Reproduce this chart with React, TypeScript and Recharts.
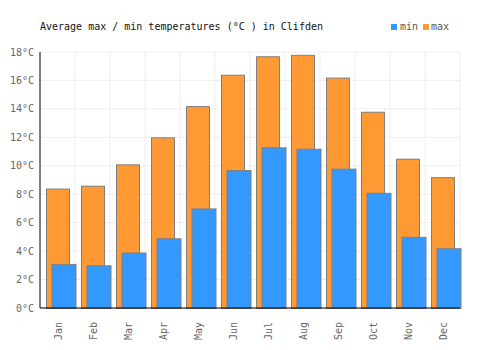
import { Bar, BarChart, CartesianGrid, XAxis, YAxis } from "recharts";

const months = ["Jan", "Feb", "Mar", "Apr", "May", "Jun", "Jul", "Aug", "Sep", "Oct", "Nov", "Dec"];
const minTemps = [3.1, 3.0, 3.9, 4.9, 7.0, 9.7, 11.3, 11.2, 9.8, 8.1, 5.0, 4.2];
const maxTemps = [8.4, 8.6, 10.1, 12.0, 14.2, 16.4, 17.7, 17.8, 16.2, 13.8, 10.5, 9.2];
const yTicks = [0, 2, 4, 6, 8, 10, 12, 14, 16, 18];

const data = months.map((month, i) => ({ month, min: minTemps[i], max: maxTemps[i] }));

const FONT = "'DejaVu Sans Mono', monospace";
const ORANGE = "#ff9933";
const BLUE = "#3399ff";
const EDGE = "#7f7f7f";

// max bar: drawn where the scale puts it
const MaxShape = (p: any) => (
  <rect x={p.x + 0.5} y={p.y + 0.5} width={p.width} height={p.height} fill={ORANGE} stroke={EDGE} strokeWidth={1} />
);

// min bar: same band, nudged right so it overlaps the max bar
const MinShape = (p: any) => (
  <rect x={p.x + 6} y={p.y + 0.5} width={p.width} height={p.height} fill={BLUE} stroke={EDGE} strokeWidth={1} />
);

const MonthTick = ({ x, y, payload }: any) => (
  <text
    x={x + 4}
    y={y + 6}
    transform={`rotate(-90, ${x + 4}, ${y + 6})`}
    textAnchor="end"
    fontFamily={FONT}
    fontSize={10}
    fill="#666"
  >
    {payload.value}
  </text>
);

const gridX = ({ offset }: any) => {
  const step = offset.width / months.length;
  return months.map((_, i) => offset.left + step * (i + 1));
};

export default function App() {
  return (
    <div style={{ position: "absolute", left: 0, top: 0, width: 500, height: 350, background: "#fff" }}>
      <div
        style={{
          position: "absolute",
          left: 40,
          top: 21,
          fontFamily: FONT,
          fontSize: 10,
          lineHeight: "12px",
          color: "#111",
          whiteSpace: "pre",
        }}
      >
        Average max / min temperatures (°C ) in Clifden
      </div>
      <div
        style={{
          position: "absolute",
          left: 391,
          top: 21,
          display: "flex",
          alignItems: "center",
          fontFamily: FONT,
          fontSize: 10,
          lineHeight: "12px",
          color: "#555",
        }}
      >
        <span style={{ width: 6, height: 6, background: BLUE, marginRight: 3 }} />
        <span>min</span>
        <span style={{ width: 6, height: 6, background: ORANGE, marginLeft: 5, marginRight: 2 }} />
        <span>max</span>
      </div>
      <BarChart width={500} height={350} data={data} margin={{ top: 52, right: 40, bottom: 0, left: 0 }}>
        <CartesianGrid stroke="#eeeeee" verticalCoordinatesGenerator={gridX} />
        <XAxis
          dataKey="month"
          height={42}
          stroke="#000"
          tickLine={false}
          interval={0}
          tick={<MonthTick />}
        />
        <XAxis xAxisId="b" dataKey="month" hide />
        <YAxis
          width={40}
          domain={[0, 18]}
          ticks={yTicks}
          stroke="#000"
          tickLine={false}
          tickSize={4}
          tickMargin={2}
          tickFormatter={(v: number) => `${v}°C`}
          tick={{ fontFamily: FONT, fontSize: 10, fill: "#666" }}
        />
        <Bar dataKey="max" barSize={23} shape={MaxShape} isAnimationActive={false} />
        <Bar dataKey="min" xAxisId="b" barSize={24} shape={MinShape} isAnimationActive={false} />
      </BarChart>
    </div>
  );
}
